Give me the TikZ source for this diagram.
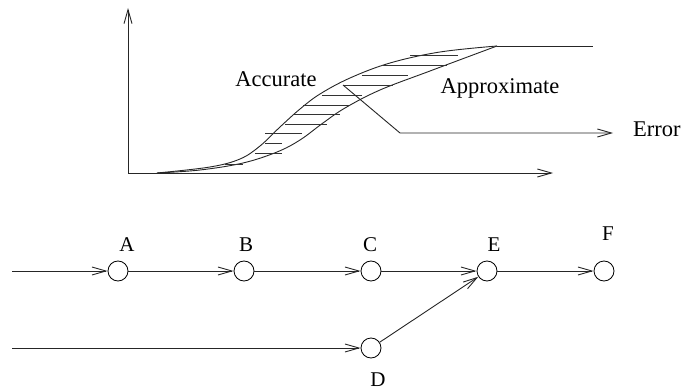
\documentclass[tikz,border=0pt]{standalone}
\usepackage{fontspec}
\setmainfont{Liberation Serif}
\usetikzlibrary{arrows.meta}
\begin{document}
\begin{tikzpicture}[x=1pt,y=-1pt,
  ln/.style={line width=0.9pt,draw=black!85},
  arr/.style={ln,-{Straight Barb[length=14pt,width=8pt,line width=0.9pt]}},
  hatch/.style={line width=0.8pt,draw=black!80},
  circ/.style={circle,draw=black,line width=0.8pt,minimum size=20pt,inner sep=0pt},
  lbl/.style={font=\fontsize{21}{24}\selectfont,inner sep=0pt},
  txt/.style={font=\fontsize{22.5}{26}\selectfont,inner sep=0pt}]
\useasboundingbox (0,0) rectangle (685,390);
% axes
\coordinate (O) at (128,173);
\coordinate (ytop) at (128,8);
\coordinate (xend) at (553,173);
\draw[arr] (O) -- (ytop);
\draw[arr] (O) -- (xend);
% accurate curve
\draw[ln] plot[smooth,tension=0.6] coordinates {(157,173) (210,167) (240,159) (260,146) (280,127) (300,109) (320,94) (350,78) (390,63) (440,52) (497,46)};
% approximate curve
\draw[ln] plot[smooth,tension=0.6] coordinates {(157,173) (200,170) (243,163) (277,152) (300,140) (323,123) (345,108) (380,90) (430,71) (497,46)};
\coordinate (J) at (497,46);
\coordinate (Jend) at (593,46);
\draw[ln] (J) -- (Jend);
% hatching
\foreach \y/\a/\b in {55/410/458, 65/383/447, 75/362/408, 85/343/393, 95/322/362, 105/303/350, 114/293/340, 124/285/327, 133/265/302, 143/265/282, 153/255/282, 164/225/243}
  \draw[hatch] (\a,\y) -- (\b,\y);
% error leader
\coordinate (e1) at (343,85);
\coordinate (e2) at (400,133);
\coordinate (e3) at (613,133);
\draw[arr] (e1) -- (e2) -- (e3);
\node[txt,anchor=west] (err) at (633,129) {Error};
\node[txt] (acc) at (276,79) {Accurate};
\node[txt] (app) at (500,88) {Approximate};
% graph
\node[circ] (A) at (118,271) {};
\node[circ] (B) at (244,271) {};
\node[circ] (C) at (371,271) {};
\node[circ] (E) at (487,271) {};
\node[circ] (F) at (604,271) {};
\node[circ] (D) at (371,348) {};
\node[lbl] (lA) at (127,245) {A};
\node[lbl] (lB) at (246,245) {B};
\node[lbl] (lC) at (370,245) {C};
\node[lbl] (lE) at (494,245) {E};
\node[lbl] (lF) at (608,234) {F};
\node[lbl] (lD) at (378,380) {D};
\coordinate (s1) at (12,271);
\coordinate (s2) at (12,348);
\draw[arr] (s1) -- (A);
\draw[arr] (A) -- (B);
\draw[arr] (B) -- (C);
\draw[arr] (C) -- (E);
\draw[arr] (E) -- (F);
\draw[arr] (s2) -- (D);
\draw[arr] (D) -- (E);
\end{tikzpicture}
\end{document}
